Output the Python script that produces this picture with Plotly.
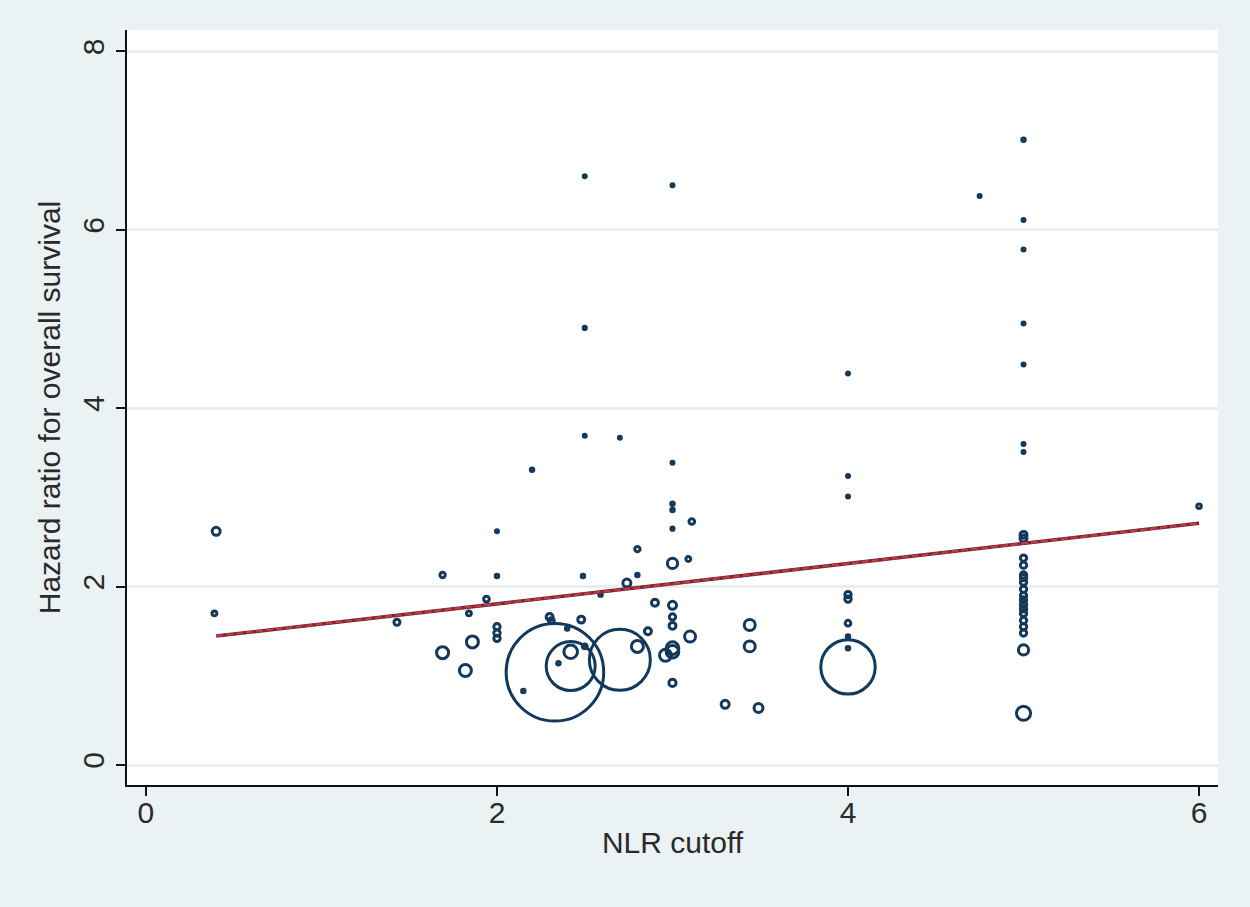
import plotly.graph_objects as go

# ---- data ----
nlr_cutoff = [
    0.40, 0.39, 1.43, 1.69, 1.69, 1.82, 1.86, 1.84, 1.94,
    2.00, 2.00, 2.00, 2.00, 2.00, 2.15, 2.20,
    2.33, 2.42, 2.70, 2.42, 2.35, 2.30, 2.31, 2.40, 2.48, 2.50, 2.49,
    2.50, 2.50, 2.50, 2.70, 2.59, 2.74, 2.80, 2.80, 2.90, 2.86, 2.80,
    3.00, 3.00, 3.00, 3.00, 3.00, 3.00, 3.11, 3.09, 3.00, 3.00, 3.00, 3.00,
    3.10, 3.00, 2.96, 3.00, 3.30, 3.44, 3.44, 3.49,
    4.00, 4.00, 4.00, 4.00, 4.00, 4.00, 4.00, 4.00, 4.00,
    4.75,
    5.00, 5.00, 5.00, 5.00, 5.00, 5.00, 5.00, 5.00, 5.00,
    5.00, 5.00, 5.00, 5.00, 5.00, 5.00, 5.00, 5.00, 5.00, 5.00, 5.00, 5.00,
    5.00, 5.00, 5.00, 5.00,
    6.00,
]
hazard_ratio = [
    2.62, 1.70, 1.60, 2.13, 1.26, 1.06, 1.38, 1.70, 1.86,
    2.62, 2.12, 1.55, 1.48, 1.42, 0.83, 3.31,
    1.04, 1.11, 1.18, 1.27, 1.14, 1.66, 1.62, 1.53, 1.63, 1.33, 2.12,
    6.60, 4.90, 3.69, 3.67, 1.91, 2.04, 2.13, 2.42, 1.82, 1.50, 1.33,
    6.50, 3.39, 2.93, 2.86, 2.65, 2.26, 2.73, 2.31, 1.79, 1.66, 1.56, 1.27,
    1.44, 0.92, 1.23, 1.31, 0.68, 1.57, 1.33, 0.64,
    4.39, 3.24, 3.01, 1.91, 1.86, 1.59, 1.44, 1.31, 1.10,
    6.38,
    7.01, 6.11, 5.78, 4.95, 4.49, 3.60, 3.51, 2.58, 2.54,
    2.32, 2.24, 2.13, 2.05, 1.97, 1.90, 1.85, 1.80, 1.75, 1.70, 1.62, 1.55,
    1.48, 1.29, 0.58, 2.10,
    2.90,
]
study_weight = [
    16, 6, 9, 7, 36, 36, 36, 6, 8,
    2.2, 3, 10, 10, 10, 3, 3,
    2380, 600, 930, 46, 3, 12, 8, 3, 12, 6, 3,
    2.2, 2.5, 2.2, 2.2, 3, 16, 3, 7, 12, 12, 36,
    2.2, 2.2, 3, 3, 2.5, 26, 8, 6, 16, 10, 12, 40,
    30, 13, 36, 40, 16, 30, 30, 20,
    2.2, 2.2, 2.2, 10, 10, 8, 3, 3, 740,
    2.2,
    3, 2.2, 2, 2.2, 2.2, 2.2, 2.2, 12, 12,
    10, 10, 10, 10, 10, 10, 10, 10, 10, 10, 10, 10,
    10, 26, 50, 10,
    5,
]

# fitted line: endpoints of the linear fit
fit_x = [0.40, 6.00]
fit_y = [1.446, 2.71]

x_ticks = [0, 2, 4, 6]
y_ticks = [0, 2, 4, 6, 8]

# ---- styles ----
NAVY = "#12385C"
BG = "#EAF2F3"
FONT = "Liberation Sans, Arial, sans-serif"

# draw biggest bubbles first
order = sorted(range(len(study_weight)), key=lambda i: -study_weight[i])

fig = go.Figure()
fig.add_trace(go.Scatter(
    x=[nlr_cutoff[i] for i in order],
    y=[hazard_ratio[i] for i in order],
    mode="markers",
    marker=dict(
        size=[study_weight[i] for i in order],
        sizemode="area",
        sizeref=0.5,
        sizemin=1.5,
        opacity=1,
        color="rgba(255,255,255,0)",
        line=dict(color=NAVY, width=3),
    ),
    showlegend=False,
))
fig.add_trace(go.Scatter(
    x=fit_x, y=fit_y, mode="lines",
    line=dict(color="#762535", width=3.6),
    showlegend=False,
))
fig.add_trace(go.Scatter(
    x=fit_x, y=fit_y, mode="lines",
    line=dict(color="#C03A42", width=2.2, dash="7px,3px"),
    showlegend=False,
))

fig.update_layout(
    width=1250, height=907, autosize=False,
    paper_bgcolor=BG, plot_bgcolor="white",
    margin=dict(l=127, r=32, t=30, b=122, pad=0),
    font=dict(family=FONT, color="#2a2a2a", size=30),
    xaxis=dict(
        range=[-0.108, 6.108], tickvals=x_ticks,
        ticks="outside", ticklen=9, tickwidth=1.6, tickcolor="#111",
        ticklabelstandoff=-9,
        showgrid=False, zeroline=False,
        showline=True, linecolor="#111", linewidth=2,
        title=dict(text="NLR cutoff", font=dict(size=30), standoff=4),
        tickfont=dict(size=30),
    ),
    yaxis=dict(
        range=[-0.224, 8.24], tickvals=y_ticks, tickangle=-90,
        ticks="outside", ticklen=9, tickwidth=1.6, tickcolor="#111",
        showgrid=True, gridcolor="#E9EFEF", gridwidth=2.5,
        zeroline=False,
        showline=True, linecolor="#111", linewidth=2,
        title=dict(text="Hazard ratio for overall survival", font=dict(size=30), standoff=8),
        tickfont=dict(size=30),
    ),
)

fig.write_html(
    "out.html",
    config={"displayModeBar": False},
    post_script="document.body.style.margin='0';document.body.style.background='#EAF2F3';",
)
